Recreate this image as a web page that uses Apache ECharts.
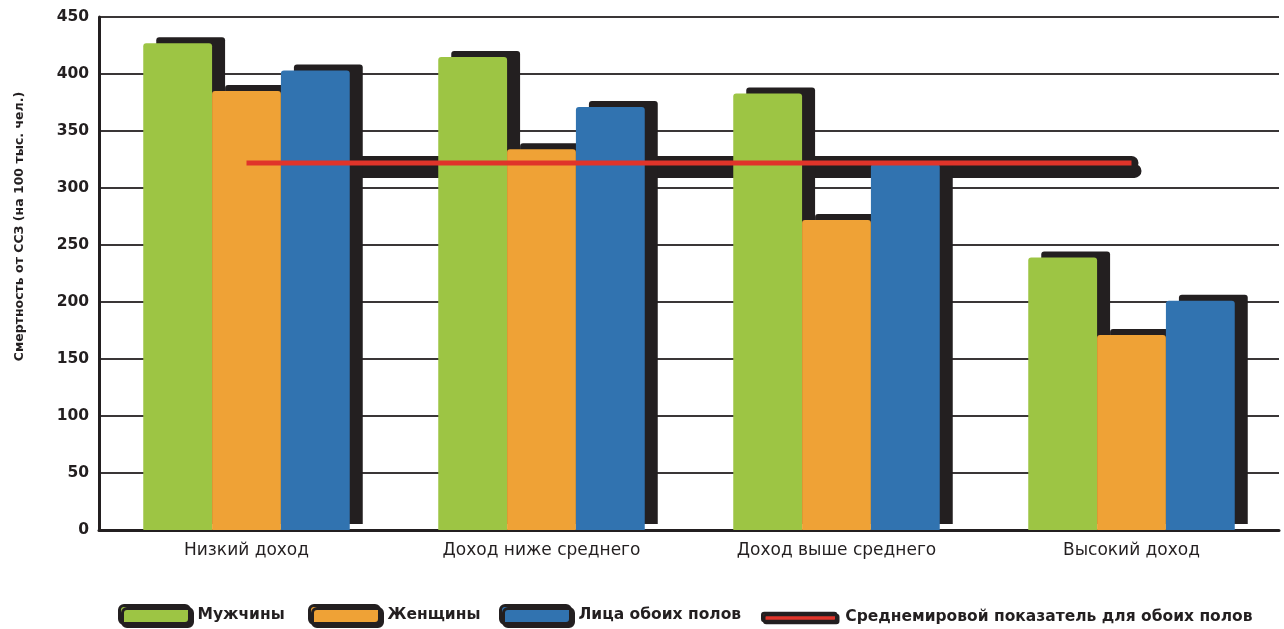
<!DOCTYPE html>
<html>
<head>
<meta charset="utf-8">
<script src="https://cdn.jsdelivr.net/npm/echarts@6/dist/echarts.min.js"></script>
<style>
  html, body { margin: 0; padding: 0; background: #ffffff; }
  #chart { width: 1284px; height: 629px; }
</style>
</head>
<body>
<div id="chart"></div>
<script>
const categories = ['Низкий доход', 'Доход ниже среднего', 'Доход выше среднего', 'Высокий доход'];
const men = [427, 415, 383, 239];
const women = [385, 334, 272, 171];
const both = [403, 371, 321, 201];
const worldAvg = [322, 322, 322, 322];
const seriesNames = ['Мужчины', 'Женщины', 'Лица обоих полов', 'Среднемировой показатель для обоих полов'];
const yTitle = 'Смертность от ССЗ (на 100 тыс. чел.)';

const DARK = '#231f20';
const colors = ['#9dc544', '#efa236', '#3173b0', '#e0342a'];

const chart = echarts.init(document.getElementById('chart'), null, { renderer: 'canvas' });

function barSeries(name, data, color) {
  return {
    name: name,
    type: 'bar',
    data: data,
    barGap: '0%',
    barCategoryGap: '30%',
    z: 2,
    itemStyle: {
      color: color,
      borderRadius: [3, 3, 0, 0],
      shadowColor: DARK,
      shadowBlur: 0,
      shadowOffsetX: 13,
      shadowOffsetY: -6
    }
  };
}

const legendBase = {
  orient: 'horizontal',
  padding: 0,
  itemGap: 0,
  top: 604,
  itemWidth: 70,
  itemHeight: 18,
  selectedMode: false,
  textStyle: { fontFamily: 'DejaVu Sans', fontWeight: 'bold', fontSize: 15.5, color: DARK, padding: [0, 0, 0, 3] },
  itemStyle: { borderColor: DARK, borderWidth: 3, shadowColor: DARK, shadowBlur: 0, shadowOffsetX: 3, shadowOffsetY: 3 }
};

const option = {
  backgroundColor: '#ffffff',
  animation: false,
  grid: { left: 99, right: 5, top: 17, bottom: 99, containLabel: false },
  legend: [
    Object.assign({}, legendBase, { left: 118, data: [{ name: seriesNames[0], icon: 'roundRect' }] }),
    Object.assign({}, legendBase, { left: 308, data: [{ name: seriesNames[1], icon: 'roundRect' }] }),
    Object.assign({}, legendBase, { left: 499, data: [{ name: seriesNames[2], icon: 'roundRect' }] }),
    Object.assign({}, legendBase, {
      left: 761, top: 609, itemWidth: 74, itemHeight: 8,
      data: [{ name: seriesNames[3], icon: 'roundRect' }],
      textStyle: { fontFamily: 'DejaVu Sans', fontWeight: 'bold', fontSize: 15.5, color: DARK, padding: [0, 0, 0, 4] },
      itemStyle: { color: colors[3], borderColor: DARK, borderWidth: 2.5, shadowColor: DARK, shadowBlur: 0, shadowOffsetX: 2, shadowOffsetY: 2 }
    })
  ],
  xAxis: {
    type: 'category',
    data: categories,
    axisLine: { show: true, lineStyle: { color: DARK, width: 3 } },
    axisTick: { show: false },
    axisLabel: { color: DARK, fontFamily: 'DejaVu Sans', fontSize: 17, margin: 12 },
    splitLine: { show: false }
  },
  yAxis: {
    type: 'value',
    min: 0,
    max: 450,
    interval: 50,
    name: yTitle,
    nameLocation: 'middle',
    nameRotate: 90,
    nameGap: 73,
    nameTextStyle: { color: DARK, fontFamily: 'DejaVu Sans', fontWeight: 'bold', fontSize: 12.5, padding: [0, 0, 0, 94] },
    axisLine: { show: true, lineStyle: { color: DARK, width: 3 } },
    axisTick: { show: false },
    axisLabel: { color: DARK, fontFamily: 'DejaVu Sans', fontWeight: 'bold', fontSize: 15.5, margin: 10 },
    splitLine: { show: true, lineStyle: { color: '#3a3637', width: 2 } }
  },
  series: [
    {
      name: 'shadowBand',
      type: 'line',
      data: worldAvg,
      z: 1,
      symbol: 'none',
      silent: true,
      lineStyle: { color: DARK, width: 14, cap: 'round', shadowColor: DARK, shadowBlur: 0, shadowOffsetX: 3, shadowOffsetY: 8 }
    },
    barSeries(seriesNames[0], men, colors[0]),
    barSeries(seriesNames[1], women, colors[1]),
    barSeries(seriesNames[2], both, colors[2]),
    {
      name: seriesNames[3],
      type: 'line',
      data: worldAvg,
      z: 5,
      symbol: 'none',
      itemStyle: { color: colors[3] },
      lineStyle: { color: colors[3], width: 5 }
    }
  ]
};

chart.setOption(option);
</script>
</body>
</html>
